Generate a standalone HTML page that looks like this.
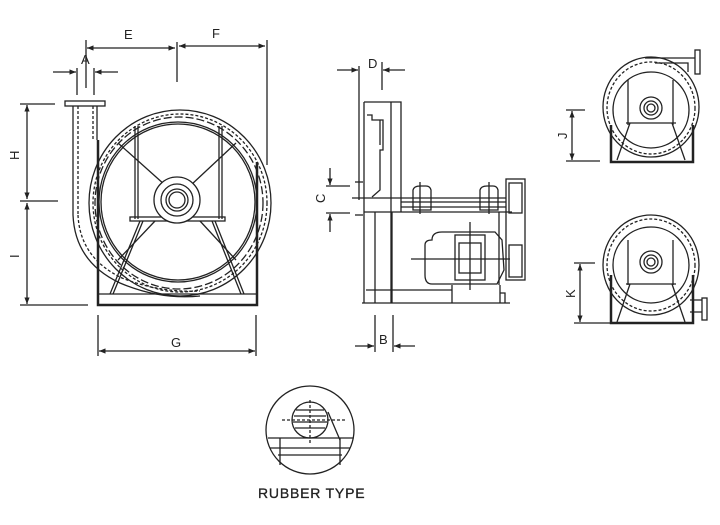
<!DOCTYPE html>
<html><head><meta charset="utf-8"><style>
html,body{margin:0;padding:0;background:#fff;width:720px;height:525px;overflow:hidden}
svg{display:block}
text{font-family:"Liberation Sans",sans-serif;fill:#222}
</style></head><body>
<svg width="720" height="525" viewBox="0 0 720 525" xmlns="http://www.w3.org/2000/svg">
<defs>
<marker id="ar" viewBox="0 0 10 10" refX="10" refY="5" markerWidth="5" markerHeight="5" orient="auto-start-reverse"><path d="M0,1 L10,5 L0,9z" fill="#222"/></marker>
</defs>
<g stroke="#222" fill="none" stroke-width="1.3">
<line x1="86" y1="40" x2="86" y2="60"/>
<line x1="177" y1="42" x2="177" y2="82"/>
<line x1="267" y1="40" x2="267" y2="165"/>
<line x1="87" y1="48" x2="175" y2="48" marker-start="url(#ar)" marker-end="url(#ar)"/>
<line x1="179" y1="46" x2="265" y2="46" marker-start="url(#ar)" marker-end="url(#ar)"/>
<line x1="77" y1="68" x2="77" y2="95"/><line x1="94" y1="68" x2="94" y2="95"/>
<line x1="86" y1="55" x2="86" y2="88"/>
<line x1="53" y1="72" x2="76" y2="72" marker-end="url(#ar)"/>
<line x1="118" y1="72" x2="95" y2="72" marker-end="url(#ar)"/>
<line x1="20" y1="104" x2="55" y2="104"/>
<line x1="20" y1="201" x2="58" y2="201"/>
<line x1="20" y1="305" x2="88" y2="305"/>
<line x1="27" y1="105" x2="27" y2="199" marker-start="url(#ar)" marker-end="url(#ar)"/>
<line x1="27" y1="203" x2="27" y2="304" marker-start="url(#ar)" marker-end="url(#ar)"/>
<line x1="98" y1="315" x2="98" y2="356"/><line x1="256" y1="315" x2="256" y2="356"/>
<line x1="99" y1="351" x2="255" y2="351" marker-start="url(#ar)" marker-end="url(#ar)"/>
<rect x="65" y="101" width="40" height="5"/>
<line x1="73" y1="106" x2="73" y2="215"/>
<line x1="97" y1="106" x2="97" y2="140"/>
<line x1="78" y1="106" x2="78" y2="215" stroke-dasharray="3,2"/>
<line x1="93" y1="106" x2="93" y2="140" stroke-dasharray="3,2"/>
<path d="M73,215 Q75,262 120,283 Q160,300 200,296"/>
<path d="M78,215 Q80,258 122,278 Q160,293 200,291" stroke-dasharray="3,2"/>
<ellipse cx="180" cy="203" rx="91" ry="93"/>
<ellipse cx="180" cy="203" rx="87" ry="89" stroke-dasharray="3,2"/>
<ellipse cx="179" cy="203" rx="84" ry="86" stroke-dasharray="8,3"/>
<ellipse cx="178" cy="202" rx="79" ry="80"/>
<ellipse cx="178" cy="202" rx="77" ry="78"/>
<path d="M98,140 L98,305 L257,305 L257,162" stroke-width="2.5"/>
<line x1="98" y1="294" x2="257" y2="294"/>
<line x1="135" y1="126" x2="135" y2="219"/><line x1="138" y1="126" x2="138" y2="219"/>
<line x1="219" y1="126" x2="219" y2="219"/><line x1="222" y1="126" x2="222" y2="219"/>
<line x1="118" y1="143" x2="165" y2="185"/><line x1="236" y1="143" x2="191" y2="185"/>
<rect x="130" y="217" width="95" height="4"/>
<line x1="140" y1="221" x2="110" y2="294"/><line x1="143" y1="221" x2="113" y2="294"/>
<line x1="215" y1="221" x2="244" y2="294"/><line x1="212" y1="221" x2="241" y2="294"/>
<line x1="155" y1="221" x2="118" y2="260"/><line x1="200" y1="221" x2="236" y2="260"/>
<circle cx="177" cy="200" r="23" fill="#fff"/>
<circle cx="177" cy="200" r="16"/>
<circle cx="177" cy="200" r="11"/>
<circle cx="177" cy="200" r="8"/>
<line x1="359" y1="66" x2="359" y2="200"/>
<line x1="382" y1="62" x2="382" y2="90"/>
<line x1="337" y1="70" x2="358" y2="70" marker-end="url(#ar)"/>
<line x1="405" y1="70" x2="383" y2="70" marker-end="url(#ar)"/>
<path d="M364,102 L401,102 L401,212"/>
<line x1="364" y1="102" x2="364" y2="303"/>
<line x1="391" y1="102" x2="391" y2="303"/>
<path d="M367,115 L372,115 L372,120 L383,120 L383,150 L380,150 L380,190 L372,197"/>
<line x1="380" y1="120" x2="380" y2="145"/>
<line x1="326" y1="186" x2="350" y2="186"/><line x1="326" y1="213" x2="350" y2="213"/>
<line x1="330" y1="168" x2="330" y2="185" marker-end="url(#ar)"/>
<line x1="330" y1="232" x2="330" y2="214" marker-end="url(#ar)"/>
<line x1="355" y1="182" x2="363" y2="182"/><line x1="355" y1="215" x2="363" y2="215"/>
<line x1="352" y1="198" x2="506" y2="198"/>
<line x1="401" y1="202" x2="506" y2="202"/>
<line x1="401" y1="207" x2="506" y2="207"/>
<path d="M413,195 L413,190 Q414,186 420,186 L426,186 Q430,186 431,190 L431,210 L413,210 Z"/>
<path d="M480,195 L480,190 Q481,186 487,186 L493,186 Q497,186 498,190 L498,210 L480,210 Z"/>
<line x1="420" y1="182" x2="420" y2="214"/><line x1="489" y1="182" x2="489" y2="214"/>
<line x1="364" y1="212" x2="512" y2="212"/>
<line x1="499" y1="212" x2="499" y2="285"/>
<line x1="375" y1="212" x2="375" y2="303"/>
<line x1="392" y1="212" x2="392" y2="303"/>
<line x1="366" y1="290" x2="452" y2="290"/>
<line x1="362" y1="303" x2="510" y2="303"/>
<path d="M432,240 Q432,232 442,232 L495,232 L502,240 L504,270 L497,284 L432,284 Q425,284 425,275 L425,245 Q425,240 432,240 Z"/>
<rect x="455" y="235" width="30" height="45"/>
<rect x="459" y="243" width="22" height="30"/>
<line x1="411" y1="259" x2="510" y2="259"/>
<line x1="470" y1="222" x2="470" y2="290"/>
<path d="M452,285 L452,303 M500,285 L500,303 M500,293 L505,293 L505,303"/>
<rect x="506" y="179" width="19" height="101"/>
<rect x="509" y="183" width="13" height="30"/>
<rect x="509" y="245" width="13" height="32"/>
<line x1="375" y1="315" x2="375" y2="352"/><line x1="393" y1="315" x2="393" y2="352"/>
<line x1="355" y1="346" x2="374" y2="346" marker-end="url(#ar)"/>
<line x1="415" y1="346" x2="394" y2="346" marker-end="url(#ar)"/>
<ellipse cx="651" cy="107" rx="48" ry="50"/>
<ellipse cx="651" cy="108" rx="44" ry="46" stroke-dasharray="3,2"/>
<circle cx="651" cy="110" r="38"/>
<path d="M645,58 L695,58 M655,63 L688,63 L688,72"/>
<rect x="695" y="50" width="5" height="24"/>
<path d="M611,125 L611,162 L693,162 L693,125" stroke-width="2.5"/>
<line x1="628" y1="80" x2="628" y2="125"/><line x1="673" y1="80" x2="673" y2="125"/>
<line x1="626" y1="123" x2="676" y2="123"/>
<line x1="630" y1="123" x2="617" y2="160"/><line x1="672" y1="123" x2="685" y2="160"/>
<circle cx="651" cy="108" r="11" fill="#fff"/><circle cx="651" cy="108" r="7"/><circle cx="651" cy="108" r="4"/>
<line x1="566" y1="110" x2="585" y2="110"/><line x1="566" y1="161" x2="600" y2="161"/>
<line x1="572" y1="111" x2="572" y2="160" marker-start="url(#ar)" marker-end="url(#ar)"/>
<ellipse cx="651" cy="265" rx="48" ry="50"/>
<ellipse cx="651" cy="265" rx="44" ry="46" stroke-dasharray="3,2"/>
<circle cx="651" cy="265" r="38"/>
<path d="M611,275 L611,323 L693,323 L693,275" stroke-width="2.5"/>
<line x1="628" y1="240" x2="628" y2="285"/><line x1="673" y1="240" x2="673" y2="285"/>
<line x1="626" y1="284" x2="676" y2="284"/>
<line x1="630" y1="284" x2="617" y2="322"/><line x1="672" y1="284" x2="685" y2="322"/>
<path d="M690,300 L702,300 M690,312 L702,312"/>
<rect x="702" y="298" width="5" height="22"/>
<circle cx="651" cy="262" r="11" fill="#fff"/><circle cx="651" cy="262" r="7"/><circle cx="651" cy="262" r="4"/>
<line x1="574" y1="263" x2="595" y2="263"/><line x1="574" y1="323" x2="610" y2="323"/>
<line x1="580" y1="264" x2="580" y2="322" marker-start="url(#ar)" marker-end="url(#ar)"/>
<circle cx="310" cy="430" r="44"/>
<circle cx="310" cy="420" r="18"/>
<line x1="296" y1="410" x2="324" y2="410"/><line x1="294" y1="416" x2="326" y2="416"/>
<line x1="293" y1="422" x2="327" y2="422"/><line x1="295" y1="428" x2="325" y2="428"/>
<line x1="282" y1="420" x2="345" y2="420" stroke-dasharray="3,2"/>
<line x1="310" y1="400" x2="310" y2="445" stroke-dasharray="3,2"/>
<path d="M328,412 L340,440"/>
<line x1="268" y1="438" x2="353" y2="438"/>
<line x1="270" y1="448" x2="350" y2="448"/>
<line x1="278" y1="455" x2="342" y2="455"/>
<line x1="280" y1="438" x2="280" y2="465"/>
<line x1="340" y1="438" x2="340" y2="465"/>
</g>
<g font-size="13">
<text x="124" y="39">E</text>
<text x="212" y="38">F</text>
<text x="81" y="64">A</text>
<text x="171" y="347">G</text>
<text x="368" y="68">D</text>
<text x="379" y="344">B</text>
<text x="19" y="160" transform="rotate(-90 19 160)">H</text>
<text x="19" y="258" transform="rotate(-90 19 258)">I</text>
<text x="325" y="203" transform="rotate(-90 325 203)">C</text>
<text x="567" y="139" transform="rotate(-90 567 139)">J</text>
<text x="575" y="298" transform="rotate(-90 575 298)">K</text>
</g>
<text x="258" y="498" font-size="14" letter-spacing="0.8" stroke="#222" stroke-width="0.3">RUBBER TYPE</text>
</svg>
</body></html>
